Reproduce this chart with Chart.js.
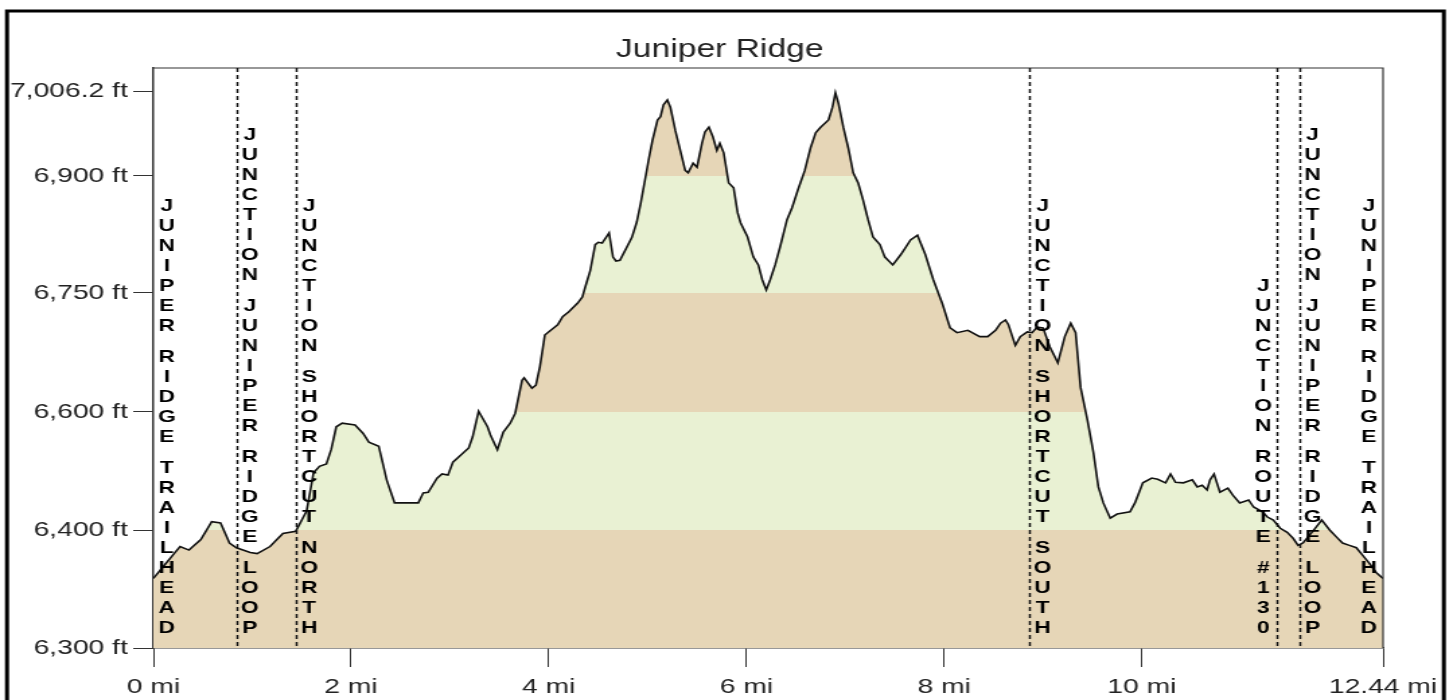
<!DOCTYPE html>
<html lang="en">
<head>
    <meta charset="UTF-8">
    <title>Juniper Ridge</title>
    <script src="https://cdn.jsdelivr.net/npm/chart.js@4"></script>
    <style>
        html, body {
            margin: 0;
            padding: 0;
            background: #fff;
            overflow: hidden;
        }
        /* the original picture is stretched sideways, so draw narrow and stretch */
        #wrap {
            width: 1080px;
            height: 700px;
            transform: scaleX(1.34537);
            transform-origin: 0 0;
        }
    </style>
</head>
<body>
    <div id="wrap"><canvas id="profile"></canvas></div>

    <script>
        // distance along the trail (mi) and elevation (ft)
        const distanceMi = [
            0, 0.09, 0.22, 0.27, 0.36, 0.48, 0.59, 0.68, 0.77, 0.84,
            0.98, 1.05, 1.18, 1.31, 1.44, 1.55, 1.62, 1.68, 1.75, 1.80,
            1.85, 1.91, 2.04, 2.12, 2.18, 2.28, 2.36, 2.44, 2.68, 2.73,
            2.78, 2.87, 2.92, 2.98, 3.03, 3.19, 3.23, 3.29, 3.38, 3.41,
            3.48, 3.54, 3.61, 3.66, 3.73, 3.75, 3.83, 3.87, 3.91, 3.96,
            4.02, 4.09, 4.14, 4.20, 4.29, 4.34, 4.37, 4.42, 4.47, 4.50,
            4.54, 4.61, 4.65, 4.68, 4.72, 4.84, 4.89, 4.93, 5.01, 5.05,
            5.10, 5.13, 5.16, 5.20, 5.23, 5.28, 5.33, 5.38, 5.41, 5.46,
            5.50, 5.55, 5.58, 5.62, 5.66, 5.70, 5.73, 5.77, 5.82, 5.87,
            5.91, 5.94, 6.01, 6.07, 6.12, 6.16, 6.20, 6.24, 6.29, 6.34,
            6.41, 6.46, 6.52, 6.59, 6.65, 6.70, 6.75, 6.83, 6.87, 6.90,
            6.93, 6.98, 7.03, 7.08, 7.13, 7.18, 7.23, 7.28, 7.35, 7.40,
            7.48, 7.56, 7.66, 7.73, 7.81, 7.89, 7.98, 8.06, 8.13, 8.24,
            8.36, 8.44, 8.52, 8.57, 8.62, 8.65, 8.72, 8.77, 8.84, 8.89,
            8.94, 9.00, 9.07, 9.15, 9.22, 9.28, 9.33, 9.38, 9.45, 9.51,
            9.56, 9.61, 9.68, 9.75, 9.88, 9.93, 10.01, 10.10, 10.16, 10.24,
            10.29, 10.34, 10.42, 10.51, 10.56, 10.61, 10.66, 10.69, 10.73, 10.79,
            10.87, 10.92, 10.99, 11.08, 11.13, 11.22, 11.27, 11.33, 11.40, 11.47,
            11.53, 11.58, 11.63, 11.72, 11.82, 11.90, 11.97, 12.03, 12.10, 12.17,
            12.23, 12.30, 12.37, 12.44
        ];
        const elevationFt = [
            6359, 6368, 6381, 6386, 6383, 6392, 6414, 6412, 6389, 6385,
            6381, 6380, 6386, 6397, 6399, 6432, 6497, 6508, 6512, 6537,
            6575, 6581, 6578, 6564, 6549, 6542, 6485, 6446, 6446, 6463,
            6464, 6488, 6495, 6493, 6515, 6539, 6558, 6601, 6575, 6561,
            6536, 6566, 6581, 6598, 6640, 6643, 6630, 6634, 6657, 6697,
            6703, 6710, 6720, 6726, 6737, 6745, 6758, 6779, 6812, 6815,
            6814, 6827, 6796, 6791, 6792, 6821, 6841, 6865, 6920, 6945,
            6970, 6974, 6989, 6995, 6986, 6957, 6932, 6907, 6904, 6916,
            6911, 6941, 6955, 6961, 6949, 6932, 6941, 6929, 6891, 6885,
            6853, 6840, 6822, 6796, 6786, 6767, 6754, 6767, 6786, 6809,
            6844, 6859, 6882, 6907, 6936, 6954, 6961, 6970, 6986, 7004,
            6991, 6961, 6935, 6904, 6891, 6869, 6844, 6822, 6812, 6796,
            6786, 6799, 6818, 6824, 6799, 6767, 6737, 6706, 6700, 6703,
            6695, 6695, 6703, 6712, 6716, 6710, 6684, 6695, 6701, 6700,
            6707, 6706, 6682, 6662, 6695, 6712, 6700, 6631, 6586, 6531,
            6473, 6446, 6420, 6427, 6431, 6446, 6480, 6488, 6486, 6480,
            6495, 6481, 6480, 6485, 6473, 6476, 6468, 6485, 6495, 6464,
            6471, 6459, 6446, 6451, 6439, 6431, 6422, 6417, 6403, 6398,
            6393, 6387, 6389, 6398, 6417, 6400, 6394, 6389, 6387, 6385,
            6379, 6372, 6364, 6359
        ];

        const distanceTicks = [0, 2, 4, 6, 8, 10, 12.44];
        const elevationTicks = [6300, 6400, 6600, 6750, 6900, 7006.2];
        // elevation bands for the fill
        const bandEdges = [6300, 6400, 6600, 6750, 6900, 7034.9];

        const waypointNames = [
            'JUNIPER RIDGE TRAILHEAD',
            'JUNCTION JUNIPER RIDGE LOOP',
            'JUNCTION SHORTCUT NORTH',
            'JUNCTION SHORTCUT SOUTH',
            'JUNCTION ROUTE #130',
            'JUNCTION JUNIPER RIDGE LOOP',
            'JUNIPER RIDGE TRAILHEAD'
        ];
        const waypointMi = [0, 0.84, 1.44, 8.86, 11.37, 11.59, 12.44];

        const FONT = "'Liberation Sans', Arial, sans-serif";
        const TAN = '#e6d6b7';
        const GREEN = '#e9f1d3';

        // the elevation axis is not linear: every labelled step gets its own stretch
        const axisValues = [6300, 6400, 6600, 6750, 6900, 7006.2, 7034.9];
        const axisFracs  = [0, 0.2034, 0.4069, 0.6121, 0.8138, 0.9603, 1];

        function toFrac(v) {
            let i = 0;
            while (i < axisValues.length - 2 && v > axisValues[i + 1]) i++;
            const t = (v - axisValues[i]) / (axisValues[i + 1] - axisValues[i]);
            return axisFracs[i] + t * (axisFracs[i + 1] - axisFracs[i]);
        }
        function fromFrac(f) {
            let i = 0;
            while (i < axisFracs.length - 2 && f > axisFracs[i + 1]) i++;
            const t = (f - axisFracs[i]) / (axisFracs[i + 1] - axisFracs[i]);
            return axisValues[i] + t * (axisValues[i + 1] - axisValues[i]);
        }

        class SteppedScale extends Chart.LinearScale {
            getPixelForValue(value) {
                return this.getPixelForDecimal(toFrac(value));
            }
            getValueForPixel(pixel) {
                return fromFrac(this.getDecimalForPixel(pixel));
            }
        }
        SteppedScale.id = 'stepped';
        Chart.register(SteppedScale);

        // horizontal colour bands under the line
        function bandFill(context) {
            const chart = context.chart;
            const area = chart.chartArea;
            if (!area) return TAN;
            const y = chart.scales.y;
            const g = chart.ctx.createLinearGradient(0, area.bottom, 0, area.top);
            for (let i = 0; i < bandEdges.length - 1; i++) {
                const col = i % 2 === 0 ? TAN : GREEN;
                const f0 = (area.bottom - y.getPixelForValue(bandEdges[i])) / area.height;
                const f1 = (area.bottom - y.getPixelForValue(bandEdges[i + 1])) / area.height;
                g.addColorStop(Math.max(0, Math.min(1, f0)), col);
                g.addColorStop(Math.max(0, Math.min(1, f1)), col);
            }
            return g;
        }

        const decorations = {
            id: 'decorations',
            afterDatasetsDraw(chart) {
                const ctx = chart.ctx;
                const area = chart.chartArea;
                const x = chart.scales.x;
                ctx.save();

                // top and right edge of the plot
                ctx.strokeStyle = '#333';
                ctx.lineWidth = 1.2;
                ctx.beginPath();
                ctx.moveTo(area.left, area.top);
                ctx.lineTo(area.right, area.top);
                ctx.lineTo(area.right, area.bottom);
                ctx.stroke();

                // dotted lines at the junctions
                ctx.strokeStyle = '#111';
                ctx.lineWidth = 1.5;
                ctx.setLineDash([4, 3]);
                waypointMi.forEach((mi, i) => {
                    if (i === 0 || i === waypointMi.length - 1) return;
                    const px = Math.round(x.getPixelForValue(mi)) + 0.5;
                    ctx.beginPath();
                    ctx.moveTo(px, area.top);
                    ctx.lineTo(px, area.bottom);
                    ctx.stroke();
                });
                ctx.setLineDash([]);

                // names written top to bottom, one letter per row
                ctx.fillStyle = '#000';
                ctx.font = 'bold 17px ' + FONT;
                ctx.textAlign = 'center';
                ctx.textBaseline = 'alphabetic';
                const step = 20;
                const spaceStep = 11;
                const baseY = 633;
                waypointMi.forEach((mi, i) => {
                    const next = waypointMi[i + 1];
                    const leftSide = next === undefined || next - mi < 0.3;
                    const cx = x.getPixelForValue(mi) + (leftSide ? -10.5 : 10);
                    const chars = waypointNames[i].split('');
                    let yPos = baseY;
                    for (let k = chars.length - 1; k >= 0; k--) {
                        if (chars[k] === ' ') {
                            yPos -= spaceStep;
                            continue;
                        }
                        ctx.fillText(chars[k], cx, yPos);
                        yPos -= step;
                    }
                });

                ctx.restore();
            },
            afterDraw(chart) {
                const ctx = chart.ctx;
                ctx.save();
                ctx.fillStyle = '#222';
                ctx.font = '25px ' + FONT;
                ctx.textAlign = 'center';
                ctx.fillText('Juniper Ridge', 535, 57);

                ctx.strokeStyle = '#000';
                ctx.lineWidth = 3;
                ctx.strokeRect(5.2, 11, 1068, 720);
                ctx.restore();
            }
        };

        const ctx = document.getElementById('profile').getContext('2d');

        new Chart(ctx, {
            type: 'line',
            data: {
                datasets: [{
                    label: 'Elevation',
                    data: distanceMi.map((d, i) => ({ x: d, y: elevationFt[i] })),
                    borderColor: '#111',
                    borderWidth: 1.6,
                    backgroundColor: bandFill,
                    fill: 'start',
                    pointRadius: 0,
                    tension: 0
                }]
            },
            options: {
                responsive: true,
                maintainAspectRatio: false,
                animation: false,
                layout: {
                    padding: { top: 68, right: 52, bottom: 0, left: 0 }
                },
                plugins: {
                    legend: { display: false },
                    tooltip: { enabled: false },
                    title: { display: false }
                },
                scales: {
                    x: {
                        type: 'linear',
                        min: 0,
                        max: 12.44,
                        afterBuildTicks: (s) => { s.ticks = distanceTicks.map(v => ({ value: v })); },
                        afterFit: (s) => { s.height = 52; },
                        ticks: {
                            autoSkip: false,
                            maxRotation: 0,
                            padding: 8,
                            color: '#222',
                            font: { family: FONT, size: 21 },
                            callback: (v) => v + ' mi'
                        },
                        grid: {
                            drawOnChartArea: false,
                            tickLength: 19,
                            tickWidth: 1,
                            tickColor: '#333'
                        },
                        border: { display: true, color: '#333', width: 1.5 }
                    },
                    y: {
                        type: 'stepped',
                        min: 6300,
                        max: 7034.9,
                        afterBuildTicks: (s) => { s.ticks = elevationTicks.map(v => ({ value: v })); },
                        afterFit: (s) => { s.width = 114; },
                        ticks: {
                            autoSkip: false,
                            padding: 4,
                            color: '#222',
                            font: { family: FONT, size: 21 },
                            callback: (v) => v.toLocaleString('en-US') + ' ft'
                        },
                        grid: {
                            drawOnChartArea: false,
                            tickLength: 15,
                            tickWidth: 1,
                            tickColor: '#333'
                        },
                        border: { display: true, color: '#333', width: 1.5 }
                    }
                }
            },
            plugins: [decorations]
        });
    </script>
</body>
</html>
